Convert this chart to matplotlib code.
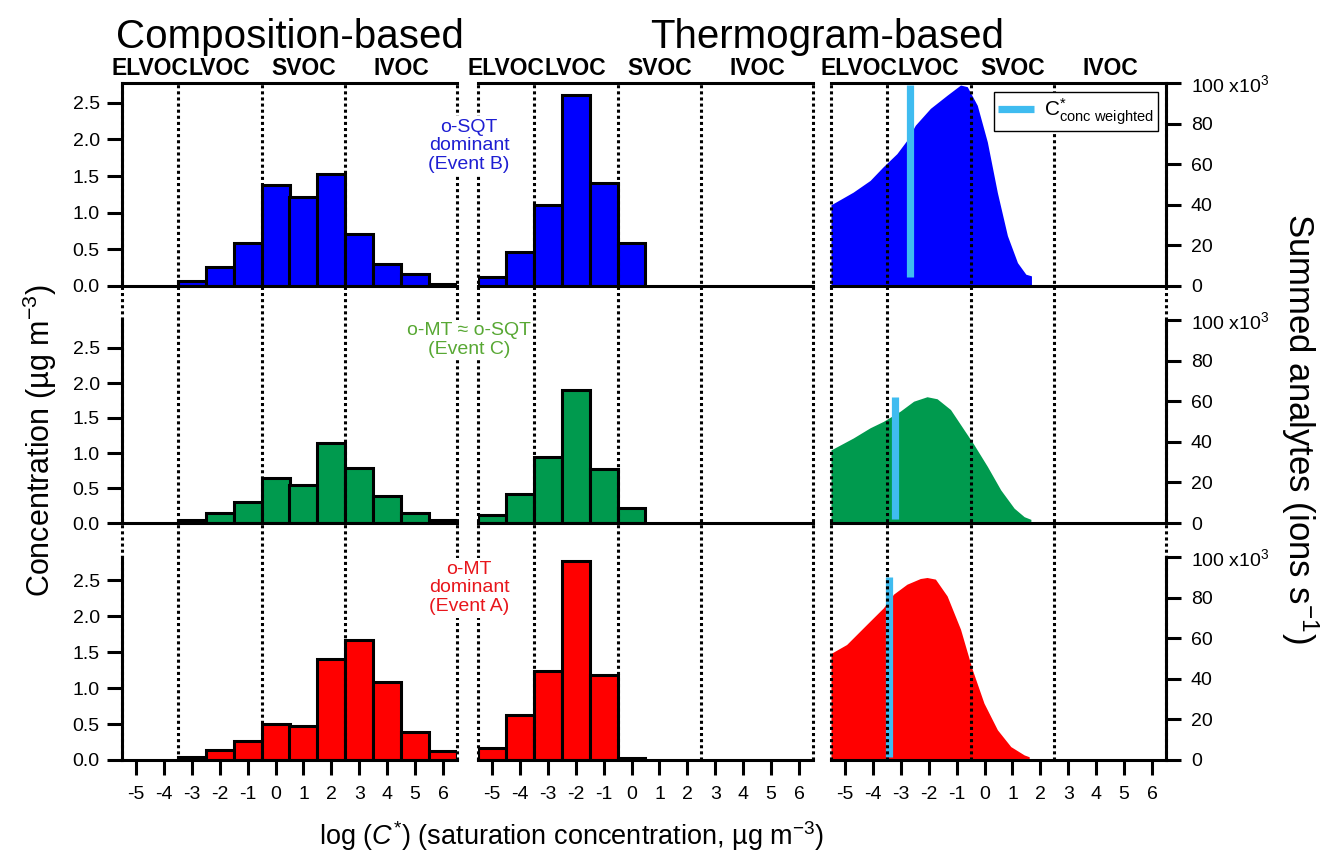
import matplotlib
matplotlib.use('Agg')
import matplotlib.pyplot as plt
from matplotlib.lines import Line2D
import matplotlib.transforms as mtransforms
from matplotlib.ticker import FormatStrFormatter

plt.rcParams['font.family'] = ['Liberation Sans', 'DejaVu Sans']
plt.rcParams['mathtext.fontset'] = 'custom'
plt.rcParams['mathtext.rm'] = 'Liberation Sans'
plt.rcParams['mathtext.it'] = 'Liberation Sans:italic'
plt.rcParams['mathtext.bf'] = 'Liberation Sans:bold'
plt.rcParams['axes.unicode_minus'] = False

# ---------------- data ----------------
volatility_classes = ['ELVOC', 'LVOC', 'SVOC', 'IVOC']
class_bounds = [-5.5, -3.5, -0.5, 2.5, 6.5]
x_ticks = [-5, -4, -3, -2, -1, 0, 1, 2, 3, 4, 5, 6]

# composition-based bins (log C*)
bins_comp = [-3, -2, -1, 0, 1, 2, 3, 4, 5, 6]
comp_B = [0.07, 0.26, 0.59, 1.38, 1.22, 1.53, 0.71, 0.30, 0.16, 0.03]
comp_C = [0.04, 0.14, 0.30, 0.64, 0.54, 1.15, 0.79, 0.38, 0.15, 0.05]
comp_A = [0.04, 0.14, 0.26, 0.50, 0.47, 1.40, 1.67, 1.08, 0.39, 0.12]

# thermogram-based bins
bins_thermo = [-5, -4, -3, -2, -1, 0]
thermo_B = [0.12, 0.46, 1.10, 2.60, 1.40, 0.58]
thermo_C = [0.11, 0.41, 0.94, 1.90, 0.77, 0.21]
thermo_A = [0.17, 0.62, 1.24, 2.76, 1.18, 0.03]

# summed analytes (x10^3 ions/s) vs log C*
sum_x_B = [-5.5, -4.71, -4.1, -3.64, -3.14, -2.78, -2.48, -1.94, -1.34, -0.86, -0.62,
           -0.26, 0.1, 0.46, 0.82, 1.18, 1.48, 1.68, 1.68]
sum_y_B = [40, 46.2, 52, 58.6, 65.2, 71.8, 79.2, 87.5, 94, 99, 98.2,
           89, 71, 46, 24.8, 11.5, 5.8, 5, 0]
sum_x_C = [-5.5, -4.7, -4.1, -3.62, -3.02, -2.54, -2.06, -1.7, -1.22, -0.74, -0.38,
           0.1, 0.58, 1.06, 1.42, 1.66, 1.66]
sum_y_C = [36, 41.9, 46.9, 50.1, 55.1, 60, 62.2, 61.2, 55.9, 46, 38.6,
           27.9, 16.3, 7.3, 3.1, 1.8, 0]
sum_x_A = [-5.5, -4.94, -4.22, -3.62, -3.26, -2.78, -2.3, -2.06, -1.76, -1.34, -0.86,
           -0.44, -0.02, 0.46, 0.94, 1.42, 1.6, 1.6]
sum_y_A = [52.5, 56.9, 66.8, 75, 81.7, 86.6, 89.4, 89.9, 89.1, 80.8, 64.4,
           44.6, 28, 14.9, 6.6, 2.5, 1.6, 0]

# concentration-weighted C* (log) and the vertical extent of its marker line
cw_x = [-2.67, -3.2, -3.43]
cw_lo = [4.5, 2.0, 1.6]
cw_hi = [99, 62, 90]

event_labels = ['o-SQT\ndominant\n(Event B)', 'o-MT \u2248 o-SQT\n(Event C)', 'o-MT\ndominant\n(Event A)']
right_ticks = [0, 20, 40, 60, 80, 100]
right_ticklabels = ['0', '20', '40', '60', '80', '100 x10$^3$']
left_ticks = [0.0, 0.5, 1.0, 1.5, 2.0, 2.5]

# ---------------- style ----------------
bar_colors = ['#0000ff', '#009a4e', '#ff0000']
text_colors = ['#1e1ed2', '#58a834', '#e8161c']
lightblue = '#3fbcf0'
row_ylim = [2.77, 2.90, 2.82]
TICK_FS = 14

W, H = 1325, 856
fig = plt.figure(figsize=(W / 100, H / 100), dpi=100)


def fx(px):
    return px / W


def fy(py):
    return 1 - py / H


col_x = [122, 478, 831]
col_w = 335
row_top = [83, 320, 557]
row_h = 203
LW = 2.2

comp_rows = [comp_B, comp_C, comp_A]
thermo_rows = [thermo_B, thermo_C, thermo_A]
sum_rows = [(sum_x_B, sum_y_B), (sum_x_C, sum_y_C), (sum_x_A, sum_y_A)]

top_axes = []
for r in range(3):
    axes_row = []
    for c in range(3):
        ax = fig.add_axes([fx(col_x[c]), fy(row_top[r] + row_h), col_w / W, row_h / H])
        ax.set_xlim(-5.5, 6.5)
        for s in ax.spines.values():
            s.set_linewidth(LW)
        ax.spines['top'].set_visible(r == 0)
        ax.spines['left'].set_visible(c == 0)
        ax.spines['right'].set_visible(c == 2)
        if r == 2:
            ax.set_xticks(x_ticks)
            ax.tick_params(axis='x', direction='out', length=11, width=LW,
                           labelsize=TICK_FS, pad=8)
        else:
            ax.set_xticks([])
        if c == 0:
            ax.bar(bins_comp, comp_rows[r], width=1, color=bar_colors[r],
                   edgecolor='black', linewidth=LW)
        elif c == 1:
            ax.bar(bins_thermo, thermo_rows[r], width=1, color=bar_colors[r],
                   edgecolor='black', linewidth=LW)
        else:
            sx, sy = sum_rows[r]
            ax.fill_between(sx, sy, 0, color=bar_colors[r], lw=0)
            ax.plot([cw_x[r], cw_x[r]], [cw_lo[r], cw_hi[r]], color=lightblue,
                    lw=5.2, solid_capstyle='butt')
        if c < 2:
            ax.set_ylim(0, row_ylim[r])
        else:
            ax.set_ylim(0, 100)
        if c == 0:
            ax.set_yticks(left_ticks)
            ax.yaxis.set_major_formatter(FormatStrFormatter('%.1f'))
            ax.tick_params(axis='y', direction='out', length=11, width=LW,
                           labelsize=TICK_FS, pad=5)
        elif c == 1:
            ax.set_yticks([])
        else:
            ax.yaxis.tick_right()
            ax.set_yticks(right_ticks)
            ax.set_yticklabels(right_ticklabels)
            ax.tick_params(axis='y', direction='out', length=11, width=LW,
                           labelsize=TICK_FS, pad=7)
        axes_row.append(ax)
    if r == 0:
        top_axes = axes_row

# dotted volatility-class boundaries, spanning all rows of each column
for c in range(3):
    ov = fig.add_axes([fx(col_x[c]), fy(760), col_w / W, (760 - 83) / H], zorder=1)
    ov.set_xlim(-5.5, 6.5)
    ov.set_ylim(0, 1)
    ov.axis('off')
    ov.patch.set_alpha(0)
    for b in class_bounds:
        ov.axvline(b, color='black', lw=LW, linestyle=(0, (1, 1)), clip_on=False)

# volatility class names above each column
for ax in top_axes:
    tr = mtransforms.blended_transform_factory(ax.transData, ax.transAxes)
    for i, name in enumerate(volatility_classes):
        xc = 0.5 * (class_bounds[i] + class_bounds[i + 1])
        ax.text(xc, (286 - 75) / row_h, name, transform=tr, ha='center',
                va='baseline', fontsize=16.5, fontweight='bold')

# titles
fig.text(fx(290), fy(48), 'Composition-based', fontsize=29, ha='center', va='baseline')
fig.text(fx(827), fy(48), 'Thermogram-based', fontsize=29, ha='center', va='baseline')

# event labels
event_y = [146, 340, 588]
for r in range(3):
    fig.text(fx(469), fy(event_y[r]), event_labels[r], color=text_colors[r],
             fontsize=14, ha='center', va='center', multialignment='center',
             linespacing=1.15, zorder=6, bbox=dict(fc='white', ec='none', pad=1.5))

# axis labels
fig.text(fx(40), fy(441), 'Concentration (\u00b5g m$^{-3}$)', rotation=90,
         fontsize=22, ha='center', va='center')
fig.text(fx(572), fy(836), 'log ($C^{*}$) (saturation concentration, \u00b5g m$^{-3}$)',
         fontsize=19.5, ha='center', va='center')
fig.text(fx(1300), fy(428), 'Summed analytes (ions s$^{-1}$)', rotation=270,
         fontsize=25, ha='center', va='center')

# legend
leg = fig.legend(handles=[Line2D([], [], color=lightblue, lw=5.2, solid_capstyle='butt')],
                 labels=[r'C$^{*}_{\mathrm{conc\ weighted}}$'],
                 loc='upper right', bbox_to_anchor=(fx(1158), fy(92)),
                 frameon=True, fancybox=False, framealpha=1, edgecolor='black',
                 borderaxespad=0, fontsize=15, handlelength=1.7, borderpad=0.2,
                 handletextpad=0.5)
leg.get_frame().set_linewidth(1.0)

fig.savefig('out.png', dpi=100)
